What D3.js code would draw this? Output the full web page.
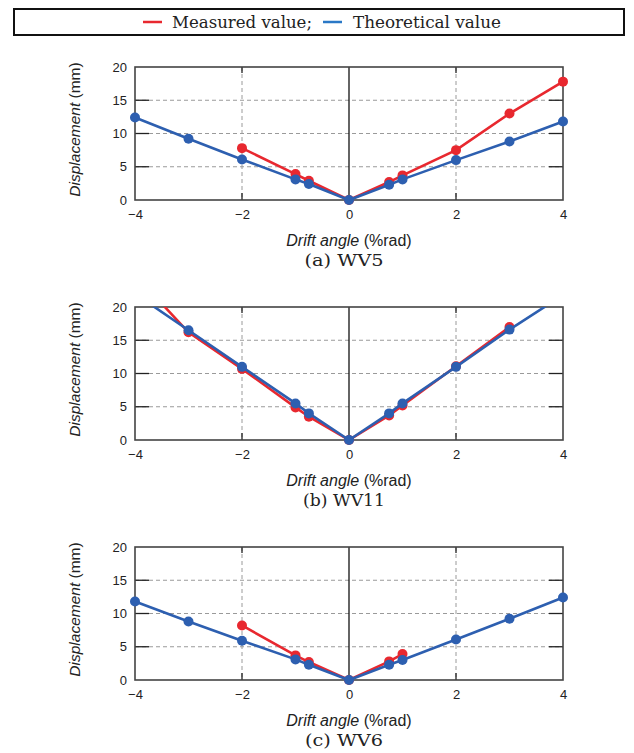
<!DOCTYPE html>
<html>
<head>
<meta charset="utf-8">
<script src="https://cdn.jsdelivr.net/npm/d3@7"></script>
<style>
  body { margin: 0; background: #fff; }
  svg { display: block; }
</style>
</head>
<body>
<div id="chart"></div>
<script>
// drift angle ticks / displacement ticks
const xTicks = [-4, -2, 0, 2, 4];
const yTicks = [0, 5, 10, 15, 20];

// (a) WV5
const wv5MeasuredX = [-2, -1, -0.75, 0, 0.75, 1, 2, 3, 4];
const wv5Measured = [7.8, 3.9, 2.9, 0, 2.7, 3.7, 7.5, 13.0, 17.8];
const wv5TheoryX = [-4, -3, -2, -1, -0.75, 0, 0.75, 1, 2, 3, 4];
const wv5Theory = [12.4, 9.2, 6.1, 3.1, 2.4, 0, 2.3, 3.1, 6.0, 8.8, 11.8];

// (b) WV11
const wv11MeasuredX = [-4, -3, -2, -1, -0.75, 0, 0.75, 1, 2, 3];
const wv11Measured = [24.8, 16.2, 10.7, 4.9, 3.5, 0, 3.7, 5.2, 11.1, 17.0];
const wv11TheoryX = [-4, -3, -2, -1, -0.75, 0, 0.75, 1, 2, 3, 4];
const wv11Theory = [22.0, 16.5, 11.0, 5.5, 4.0, 0, 4.0, 5.5, 11.0, 16.6, 21.8];

// (c) WV6
const wv6MeasuredX = [-2, -1, -0.75, 0, 0.75, 1];
const wv6Measured = [8.2, 3.7, 2.7, 0, 2.8, 3.9];
const wv6TheoryX = [-4, -3, -2, -1, -0.75, 0, 0.75, 1, 2, 3, 4];
const wv6Theory = [11.8, 8.8, 5.9, 3.1, 2.3, 0, 2.3, 3.0, 6.1, 9.2, 12.4];

const panels = [
    {caption: '(a) WV5', capLen: 79, mx: wv5MeasuredX, my: wv5Measured, tx: wv5TheoryX, ty: wv5Theory},
    {caption: '(b) WV11', capLen: 82, mx: wv11MeasuredX, my: wv11Measured, tx: wv11TheoryX, ty: wv11Theory},
    {caption: '(c) WV6', capLen: 78, mx: wv6MeasuredX, my: wv6Measured, tx: wv6TheoryX, ty: wv6Theory}
];

const RED = '#e8282f';
const BLUE = '#2d5fb0';
const SERIF = '"DejaVu Serif", serif';
const SANS = '"Liberation Sans", Arial, sans-serif';

const W = 634, H = 753;
const svg = d3.select('#chart').append('svg')
    .attr('width', W)
    .attr('height', H);

// legend
const lg = svg.append('g');
lg.append('rect')
    .attr('x', 14).attr('y', 9)
    .attr('width', 610).attr('height', 26)
    .attr('fill', 'none').attr('stroke', '#111').attr('stroke-width', 2);
lg.append('line').attr('x1', 143).attr('x2', 162).attr('y1', 22).attr('y2', 22)
    .attr('stroke', RED).attr('stroke-width', 2.5);
lg.append('text').attr('x', 172).attr('y', 27.5).text('Measured value;')
    .attr('textLength', 140).attr('lengthAdjust', 'spacingAndGlyphs')
    .style('font-family', SERIF).style('font-size', '16px').attr('fill', '#222');
lg.append('line').attr('x1', 323).attr('x2', 342).attr('y1', 22).attr('y2', 22)
    .attr('stroke', '#2a78c6').attr('stroke-width', 2.5);
lg.append('text').attr('x', 353).attr('y', 27.5).text('Theoretical value')
    .attr('textLength', 148).attr('lengthAdjust', 'spacingAndGlyphs')
    .style('font-family', SERIF).style('font-size', '16px').attr('fill', '#222');

const plotL = 135, plotR = 563;
const plotH = 133;

const x = d3.scaleLinear().domain([-4, 4]).range([plotL, plotR]);
const y = d3.scaleLinear().domain([0, 20]).range([plotH, 0]);

panels.forEach((p, i) => {
    const top = 67 + i * 240;
    const g = svg.append('g').attr('transform', `translate(0,${top})`);

    // lines above 20 are cut at the top edge only
    const clipId = `clip${i}`;
    g.append('clipPath').attr('id', clipId)
        .append('rect')
        .attr('x', plotL - 10).attr('y', 0)
        .attr('width', plotR - plotL + 20).attr('height', plotH + 10);

    // horizontal dashed grid
    g.selectAll('.hgrid')
        .data(yTicks.filter(d => d > 0 && d < 20))
        .enter().append('line')
        .attr('x1', plotL).attr('x2', plotR)
        .attr('y1', d => y(d)).attr('y2', d => y(d))
        .attr('stroke', '#9a9a9a').attr('stroke-width', 1)
        .attr('stroke-dasharray', '4,3');

    // vertical dashed grid at +-2
    g.selectAll('.vgrid')
        .data(xTicks.filter(d => d !== 0 && Math.abs(d) !== 4))
        .enter().append('line')
        .attr('x1', d => x(d)).attr('x2', d => x(d))
        .attr('y1', 0).attr('y2', plotH)
        .attr('stroke', '#9a9a9a').attr('stroke-width', 1)
        .attr('stroke-dasharray', '4,3');

    // zero line
    g.append('line')
        .attr('x1', x(0)).attr('x2', x(0))
        .attr('y1', 0).attr('y2', plotH)
        .attr('stroke', '#111').attr('stroke-width', 1.3);

    // inner ticks
    const yt = yTicks.filter(d => d > 0 && d < 20);
    g.selectAll('.ltick').data(yt).enter().append('line')
        .attr('x1', plotL).attr('x2', plotL + 14)
        .attr('y1', d => y(d)).attr('y2', d => y(d))
        .attr('stroke', '#222').attr('stroke-width', 1.3);
    g.selectAll('.rtick').data(yt).enter().append('line')
        .attr('x1', plotR - 14).attr('x2', plotR)
        .attr('y1', d => y(d)).attr('y2', d => y(d))
        .attr('stroke', '#222').attr('stroke-width', 1.3);
    const xt = xTicks.filter(d => d !== 0 && Math.abs(d) !== 4);
    g.selectAll('.btick').data(xt).enter().append('line')
        .attr('x1', d => x(d)).attr('x2', d => x(d))
        .attr('y1', plotH - 7).attr('y2', plotH)
        .attr('stroke', '#222').attr('stroke-width', 1.3);
    g.selectAll('.ttick').data(xt).enter().append('line')
        .attr('x1', d => x(d)).attr('x2', d => x(d))
        .attr('y1', 0).attr('y2', 6)
        .attr('stroke', '#222').attr('stroke-width', 1.3);

    // frame
    g.append('rect')
        .attr('x', plotL).attr('y', 0)
        .attr('width', plotR - plotL).attr('height', plotH)
        .attr('fill', 'none').attr('stroke', '#444').attr('stroke-width', 1.6);

    // tick text
    const xAxis = g.append('g')
        .attr('transform', `translate(0,${plotH})`)
        .call(d3.axisBottom(x).tickValues(xTicks).tickSize(0).tickPadding(10)
            .tickFormat(d => d < 0 ? '\u2212' + Math.abs(d) : d));
    xAxis.select('.domain').remove();
    xAxis.selectAll('text')
        .style('font-family', SANS)
        .style('font-size', '13px').attr('fill', '#222');

    const yAxis = g.append('g')
        .attr('transform', `translate(${plotL},0)`)
        .call(d3.axisLeft(y).tickValues(yTicks).tickSize(0).tickPadding(8));
    yAxis.select('.domain').remove();
    yAxis.selectAll('text')
        .style('font-family', SANS)
        .style('font-size', '13px').attr('fill', '#222');

    // axis titles
    const yTitle = g.append('text')
        .attr('transform', `translate(80,${plotH / 2 - 4}) rotate(-90)`)
        .attr('text-anchor', 'middle')
        .style('font-family', SANS)
        .style('font-size', '15.5px').attr('fill', '#222');
    yTitle.append('tspan').style('font-style', 'italic').text('Displacement');
    yTitle.append('tspan').text(' (mm)');

    const xTitle = g.append('text')
        .attr('x', x(0)).attr('y', plotH + 46)
        .attr('text-anchor', 'middle')
        .style('font-family', SANS)
        .style('font-size', '16px').attr('fill', '#222');
    xTitle.append('tspan').style('font-style', 'italic').text('Drift angle');
    xTitle.append('tspan').text(' (%rad)');

    g.append('text')
        .attr('x', 344 - p.capLen / 2).attr('y', plotH + 66)
        .attr('textLength', p.capLen).attr('lengthAdjust', 'spacingAndGlyphs')
        .style('font-family', SERIF)
        .style('font-size', '16.5px').attr('fill', '#222')
        .text(p.caption);

    // series: measured first, theoretical drawn on top
    const line = d3.line().x(d => x(d[0])).y(d => y(d[1]));
    const series = [
        {pts: d3.zip(p.mx, p.my), color: RED},
        {pts: d3.zip(p.tx, p.ty), color: BLUE}
    ];
    series.forEach(s => {
        g.append('path')
            .datum(s.pts)
            .attr('clip-path', `url(#${clipId})`)
            .attr('d', line)
            .attr('fill', 'none')
            .attr('stroke', s.color)
            .attr('stroke-width', 2.6);
        g.selectAll(null)
            .data(s.pts.filter(d => d[1] <= 20))
            .enter().append('circle')
            .attr('cx', d => x(d[0]))
            .attr('cy', d => y(d[1]))
            .attr('r', 5)
            .attr('fill', s.color);
    });
});
</script>
</body>
</html>
